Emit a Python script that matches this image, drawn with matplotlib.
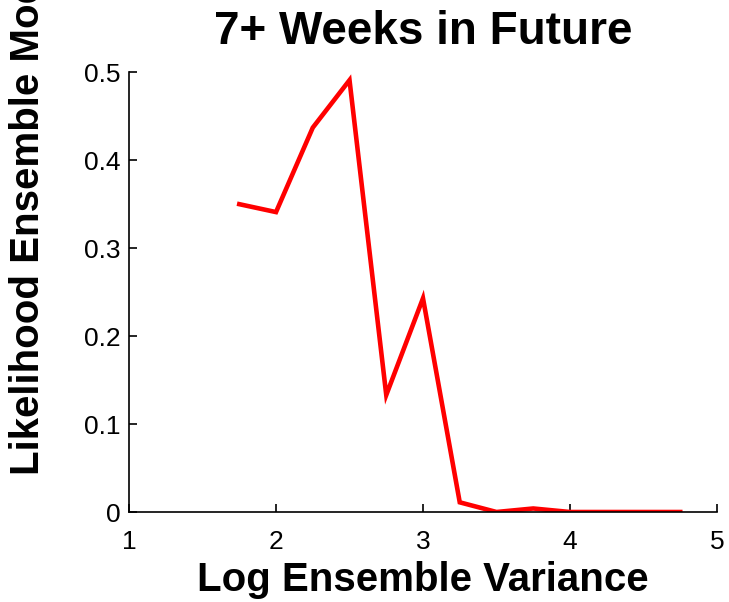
import numpy as np
import matplotlib
matplotlib.use("Agg")
import matplotlib.pyplot as plt

plt.rcParams['font.family'] = ['Liberation Sans', 'DejaVu Sans']

# data
log_variance = [1.75, 2.0, 2.25, 2.5, 2.75, 3.0, 3.25, 3.5, 3.75, 4.0, 4.25, 4.5, 4.75]
likelihood = [0.350, 0.341, 0.437, 0.491, 0.133, 0.243, 0.011, 0.0, 0.004, 0.0, 0.0, 0.0, 0.0]
x_ticks = [1, 2, 3, 4, 5]
y_ticks = [0, 0.1, 0.2, 0.3, 0.4, 0.5]

fig = plt.figure(figsize=(7.29, 6.02), dpi=100)
ax = fig.add_axes([0.177, 0.1495, 0.8065, 0.7305])

ax.plot(log_variance, likelihood, color='#ff0000', linewidth=3.3, solid_joinstyle='miter')

ax.set_xlim(1, 5)
ax.set_ylim(0, 0.5)
ax.set_xticks(x_ticks)
ax.set_yticks(y_ticks)
ax.set_xticklabels([str(t) for t in x_ticks])
ax.set_yticklabels(['0' if t == 0 else f'{t:.1f}' for t in y_ticks])

ax.spines['top'].set_visible(False)
ax.spines['right'].set_visible(False)
for s in ['left', 'bottom']:
    ax.spines[s].set_linewidth(1.2)
ax.tick_params(direction='in', length=6, width=1.2, labelsize=19)
ax.tick_params(axis='x', pad=13)
ax.tick_params(axis='y', pad=6)

ax.set_title('7+ Weeks in Future', fontsize=33, fontweight='bold', pad=20)
ax.set_xlabel('Log Ensemble Variance', fontsize=29, fontweight='bold', labelpad=5)
fig.text(28 / 729, 1 - 475 / 602, 'Likelihood Ensemble Mode Correct', rotation=90,
         ha='center', va='bottom', fontsize=29, fontweight='bold')

fig.savefig('out.png', dpi=100)
